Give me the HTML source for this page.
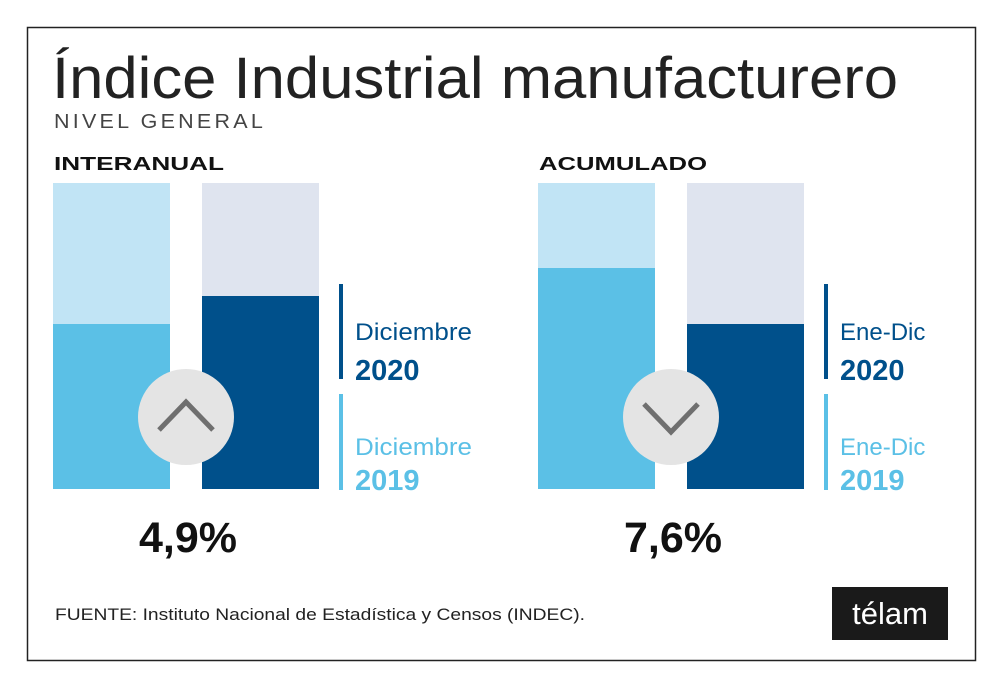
<!DOCTYPE html>
<html><head><meta charset="utf-8"><style>html,body{margin:0;padding:0;background:#fff}svg{display:block}</style></head><body>
<svg width="1004" height="689" viewBox="0 0 1004 689" xmlns="http://www.w3.org/2000/svg" font-family="Liberation Sans, DejaVu Sans, sans-serif">
<rect x="0" y="0" width="1004" height="689" fill="#fff"/>
<rect x="27.5" y="27.5" width="948" height="633" fill="none" stroke="#222" stroke-width="1.5"/>
<text x="52" y="98" font-size="58" fill="#222" textLength="846" lengthAdjust="spacingAndGlyphs">Índice Industrial manufacturero</text>
<text x="54" y="128" font-size="20" fill="#444" letter-spacing="3" textLength="212" lengthAdjust="spacingAndGlyphs">NIVEL GENERAL</text>
<text x="54" y="170" font-size="18" font-weight="bold" fill="#111" textLength="170" lengthAdjust="spacingAndGlyphs">INTERANUAL</text>
<text x="539" y="170" font-size="18" font-weight="bold" fill="#111" textLength="168" lengthAdjust="spacingAndGlyphs">ACUMULADO</text>
<rect x="53" y="183" width="117" height="306" fill="#c1e4f5"/>
<rect x="53" y="324" width="117" height="165" fill="#5bc0e6"/>
<rect x="202" y="183" width="117" height="306" fill="#dfe4ef"/>
<rect x="202" y="296" width="117" height="193" fill="#00508b"/>
<circle cx="186" cy="417" r="48" fill="#e4e4e4"/>
<polyline points="159,430 186,402 213,430" fill="none" stroke="#6f6f6f" stroke-width="5"/>
<rect x="339" y="284" width="4" height="95" fill="#00508b"/>
<rect x="339" y="394" width="4" height="96" fill="#5bc0e6"/>
<text x="355" y="340" font-size="24" fill="#00508b" textLength="117" lengthAdjust="spacingAndGlyphs">Diciembre</text>
<text x="355" y="380" font-size="29" font-weight="bold" fill="#00508b">2020</text>
<text x="355" y="455" font-size="24" fill="#5bc0e6" textLength="117" lengthAdjust="spacingAndGlyphs">Diciembre</text>
<text x="355" y="490" font-size="29" font-weight="bold" fill="#5bc0e6">2019</text>
<text x="188" y="552" font-size="43" font-weight="bold" fill="#111" text-anchor="middle">4,9%</text>
<rect x="538" y="183" width="117" height="306" fill="#c1e4f5"/>
<rect x="538" y="268" width="117" height="221" fill="#5bc0e6"/>
<rect x="687" y="183" width="117" height="306" fill="#dfe4ef"/>
<rect x="687" y="324" width="117" height="165" fill="#00508b"/>
<circle cx="671" cy="417" r="48" fill="#e4e4e4"/>
<polyline points="644,404 671,432 698,404" fill="none" stroke="#6f6f6f" stroke-width="5"/>
<rect x="824" y="284" width="4" height="95" fill="#00508b"/>
<rect x="824" y="394" width="4" height="96" fill="#5bc0e6"/>
<text x="840" y="340" font-size="24" fill="#00508b">Ene-Dic</text>
<text x="840" y="380" font-size="29" font-weight="bold" fill="#00508b">2020</text>
<text x="840" y="455" font-size="24" fill="#5bc0e6">Ene-Dic</text>
<text x="840" y="490" font-size="29" font-weight="bold" fill="#5bc0e6">2019</text>
<text x="673" y="552" font-size="43" font-weight="bold" fill="#111" text-anchor="middle">7,6%</text>
<text x="55" y="620" font-size="17" fill="#222" textLength="530" lengthAdjust="spacingAndGlyphs">FUENTE: Instituto Nacional de Estadística y Censos (INDEC).</text>
<rect x="832" y="587" width="116" height="53" fill="#1a1a1a"/>
<text x="890" y="624" font-size="31" fill="#fff" text-anchor="middle">télam</text>
</svg>
</body></html>
